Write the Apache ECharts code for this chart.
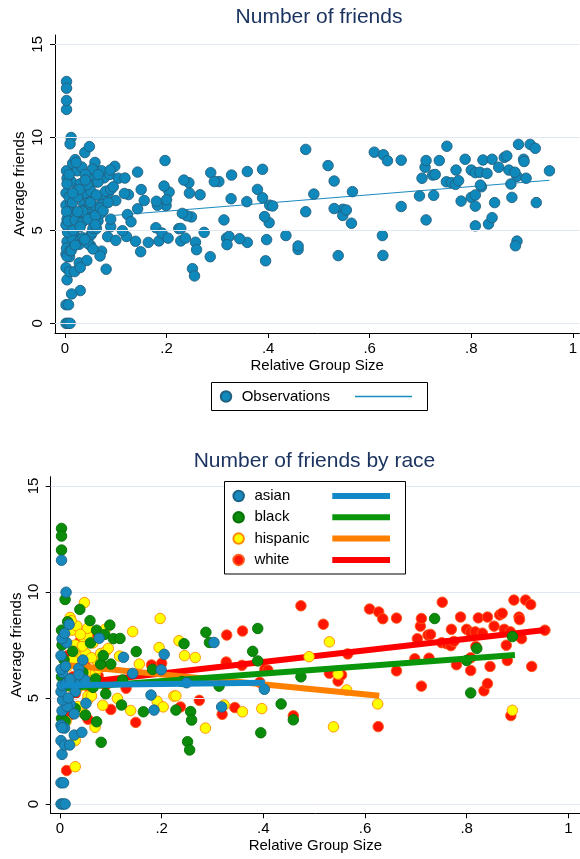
<!DOCTYPE html>
<html>
<head>
<meta charset="utf-8">
<script src="https://cdn.jsdelivr.net/npm/echarts@6/dist/echarts.min.js"></script>
<style>
html,body{margin:0;padding:0;background:#fff;}
#chart{width:580px;height:859px;}
</style>
</head>
<body>
<div id="chart"></div>
<script>
// ---- data (x = relative group size, y = average friends) ----
const asian = [
  [0.002,0],[0.006,0],[0.01,0],[0.002,1.0],[0.007,1.0],[0.004,2.34],[0.002,2.99],[0.009,2.78],[0.019,2.78],
  [0.028,3.25],[0.043,3.38],[0.002,3.72],[0.009,3.58],[0.004,3.6],[0.028,4.25],[0.004,4.4],[0.02,4.7],[0.014,4.6],
  [0.051,4.75],[0.005,4.9],[0.002,5.3],[0.004,5.6],[0.012,5.7],[0.025,5.65],[0.04,5.72],[0.02,5.9],[0.049,5.85],
  [0.005,6.2],[0.002,6.35],[0.011,6.5],[0.037,6.4],[0.037,6.1],[0.045,6.79],[0.002,7.0],[0.013,7.61],[0.004,7.8],
  [0.009,8.05],[0.018,8.47],[0.077,7.82],[0.012,9.99],[0.003,11.5],[0.03,5.3],[0.016,5.0],
  [0.125,6.92],[0.143,6.16],[0.179,5.14],[0.185,4.43],[0.199,6.33],[0.205,7.06],[0.249,5.72],[0.303,7.62],
  [0.318,4.58],[0.402,5.41]
];
const black = [
  [0.003,13.0],[0.003,12.64],[0.003,11.98],[0.01,9.65],[0.039,9.18],[0.059,8.65],[0.072,8.2],[0.098,8.44],
  [0.003,8.2],[0.004,7.5],[0.008,6.8],[0.003,6.0],[0.006,5.5],[0.003,4.04],[0.01,3.9],[0.072,3.88],[0.081,2.91],
  [0.025,7.2],[0.06,7.6],[0.045,6.2],[0.08,6.6],[0.088,8.0],[0.065,5.5],[0.09,5.2],[0.03,4.5],[0.05,4.2],
  [0.015,8.6],[0.07,5.9],[0.1,6.6],[0.085,7.0],[0.105,7.8],
  [0.118,7.81],[0.123,5.85],[0.121,4.67],[0.15,7.19],[0.164,4.35],[0.182,6.35],[0.228,4.43],[0.24,5.78],
  [0.244,7.56],[0.251,2.94],[0.255,2.55],[0.257,4.36],[0.259,3.96],[0.287,8.1],[0.294,7.62],[0.313,5.56],
  [0.379,7.2],[0.389,8.28],[0.389,6.75],[0.395,3.36],[0.435,4.72],[0.459,3.97],[0.474,6.0],[0.737,8.75],
  [0.8,6.77],[0.808,5.24],[0.82,7.34],[0.89,7.9]
];
const hispanic = [
  [0.03,1.76],[0.03,3.0],[0.069,3.62],[0.046,4.28],[0.084,4.66],[0.054,4.9],[0.055,5.1],[0.062,5.1],[0.02,5.55],
  [0.033,5.4],[0.05,6.4],[0.06,6.3],[0.07,6.2],[0.039,7.0],[0.051,7.1],[0.073,6.75],[0.062,6.9],[0.08,7.1],
  [0.09,7.2],[0.095,7.34],[0.03,7.5],[0.044,7.45],[0.045,7.9],[0.054,7.97],[0.024,8.2],[0.054,8.29],[0.033,8.4],
  [0.02,8.8],[0.022,8.65],[0.048,9.5],[0.089,8.24],[0.015,6.5],[0.025,6.8],[0.035,6.0],[0.045,5.6],[0.028,7.2],
  [0.065,7.6],[0.04,8.0],[0.035,4.6],[0.012,3.9],[0.06,5.8],[0.075,6.4],
  [0.113,4.98],[0.117,6.98],[0.139,4.41],[0.143,8.13],[0.156,6.6],[0.191,4.85],[0.195,7.38],[0.197,8.75],
  [0.203,4.58],[0.224,5.09],[0.228,5.1],[0.234,7.7],[0.245,7.0],[0.266,6.91],[0.286,3.58],[0.323,4.67],
  [0.359,4.35],[0.397,4.5],[0.49,6.95],[0.53,7.65],[0.547,6.13],[0.564,5.38],[0.538,3.64],[0.625,4.72],[0.89,4.42]
];
const white = [
  [0.013,1.58],[0.039,4.51],[0.02,4.2],[0.07,6.2],[0.075,6.05],[0.05,6.5],[0.03,5.2],[0.06,5.3],[0.015,7.0],
  [0.04,7.7],[0.025,6.0],[0.085,6.5],[0.008,8.0],[0.065,8.0],[0.055,4.0],[0.09,5.6],
  [0.1,4.46],[0.13,5.46],[0.149,3.85],[0.18,6.56],[0.2,6.64],[0.231,5.91],[0.237,4.58],[0.274,4.89],[0.319,4.23],
  [0.327,6.7],[0.328,7.97],[0.344,4.55],[0.358,6.54],[0.359,8.16],[0.393,5.74],[0.403,6.35],[0.409,6.31],
  [0.459,4.16],[0.474,9.35],[0.518,8.48],[0.53,6.17],[0.547,5.8],[0.554,6.09],[0.566,7.08],[0.609,9.2],
  [0.627,9.06],[0.635,8.74],[0.626,3.65],[0.662,8.77],[0.662,6.28],[0.698,6.85],[0.703,7.8],[0.709,8.39],
  [0.711,8.75],[0.711,5.56],[0.724,7.97],[0.729,8.0],[0.726,6.88],[0.751,7.61],[0.752,9.52],[0.761,7.56],
  [0.769,7.47],[0.77,8.24],[0.775,7.67],[0.78,6.57],[0.788,8.82],[0.8,8.24],[0.808,8.1],[0.808,6.3],[0.808,6.9],
  [0.817,8.12],[0.818,7.43],[0.823,8.78],[0.831,8.06],[0.834,5.34],[0.841,8.82],[0.841,5.68],[0.846,6.49],
  [0.854,8.39],[0.865,8.92],[0.87,9.0],[0.874,8.24],[0.878,7.49],[0.88,6.77],[0.886,8.12],[0.887,4.17],
  [0.893,9.62],[0.903,8.82],[0.904,8.7],[0.908,7.8],[0.916,9.62],[0.926,9.41],[0.928,6.49],[0.954,8.2]
];
// fitted lines (endpoints)
const fitAll      = [[0.0,5.59],[0.954,7.69]];
const fitAsian    = [[0.002,5.6],[0.403,5.72]];
const fitBlack    = [[0.003,5.45],[0.895,7.03]];
const fitHispanic = [[0.012,6.56],[0.628,5.11]];
const fitWhite    = [[0.013,5.65],[0.954,8.21]];
// ticks
const xTicks = [0, 0.2, 0.4, 0.6, 0.8, 1];
const yTicks = [0, 5, 10, 15];
const allObs = asian.concat(black, hispanic, white);

const FONT = 'Liberation Sans, Arial, Helvetica, sans-serif';
const GRIDC = '#e1e8f2';
const fmtX = v => (v === 0 ? '0' : v === 1 ? '1' : String(+v.toFixed(1)).replace(/^0/, ''));

function xAxisCfg(gi, min, max) {
  return {
    type: 'value', gridIndex: gi, min: min, max: max, position: 'bottom',
    name: 'Relative Group Size', nameLocation: 'middle', nameGap: 25, nameMoveOverlap: false,
    nameTextStyle: {color: '#000', fontSize: 15, fontFamily: FONT},
    axisLine: {show: true, onZero: false, lineStyle: {color: '#000', width: 1}},
    axisTick: {show: true, length: 5, lineStyle: {color: '#000'}, customValues: xTicks},
    axisLabel: {show: true, color: '#000', fontSize: 15, fontFamily: FONT, margin: 8,
      customValues: xTicks, formatter: fmtX},
    splitLine: {show: false}
  };
}
function yAxisCfg(gi, min, max, nameGap, margin) {
  return {
    type: 'value', gridIndex: gi, min: min, max: max, position: 'left',
    name: 'Average friends', nameLocation: 'middle', nameGap: nameGap, nameRotate: 90,
    nameMoveOverlap: false,
    nameTextStyle: {color: '#000', fontSize: 15, fontFamily: FONT},
    axisLine: {show: true, onZero: false, lineStyle: {color: '#000', width: 1}},
    axisTick: {show: true, length: 5, lineStyle: {color: '#000'}, customValues: yTicks},
    axisLabel: {show: true, color: '#000', fontSize: 15, fontFamily: FONT, margin: margin, rotate: 90,
      customValues: yTicks, formatter: v => String(v)},
    splitLine: {show: false}
  };
}
function gridSeries(xi) {
  return {
    type: 'line', xAxisIndex: xi, yAxisIndex: xi, data: [], z: 1, silent: true,
    markLine: {silent: true, symbol: ['none', 'none'], label: {show: false}, animation: false,
      lineStyle: {color: GRIDC, width: 1, type: 'solid'},
      data: yTicks.map(v => ({yAxis: v}))}
  };
}
function scatter(name, data, xi, fill, border, z) {
  return {type: 'scatter', name: name, data: data, xAxisIndex: xi, yAxisIndex: xi, z: z,
    symbol: 'circle', symbolSize: 10.5,
    itemStyle: {color: fill, borderColor: border, borderWidth: 0.9, opacity: 1}};
}
function fit(name, data, xi, color, width, z) {
  return {type: 'line', name: name, data: data, xAxisIndex: xi, yAxisIndex: xi, z: z,
    showSymbol: false, symbol: 'none', color: color,
    itemStyle: {color: color}, lineStyle: {color: color, width: width, cap: 'butt'}};
}

const C = {
  obs: ['#0f88bb', '#23607f'],
  asian: ['#1789bd', '#1b6488'],
  black: ['#0a8c0a', '#067006'],
  hispanic: ['#ffff00', '#ff8a00'],
  white: ['#ff1500', '#ff5a1a']
};
const L = {asian: '#138ac8', black: '#0a960a', hispanic: '#ff7f00', white: '#ff0000'};

const option = {
  animation: false,
  backgroundColor: '#fff',
  textStyle: {fontFamily: FONT},
  title: [
    {text: 'Number of friends', left: 319, top: 7, textAlign: 'center', padding: 0,
      textStyle: {color: '#1c3560', fontSize: 21, fontWeight: 'normal', fontFamily: FONT}},
    {text: 'Number of friends by race', left: 314.5, top: 450.5, textAlign: 'center', padding: 0,
      textStyle: {color: '#1c3560', fontSize: 21, fontWeight: 'normal', fontFamily: FONT}}
  ],
  grid: [
    {left: 55, right: 0, top: 35, bottom: 526, containLabel: false},
    {left: 50.7, right: 0, top: 476.7, bottom: 45.7, containLabel: false}
  ],
  xAxis: [xAxisCfg(0, -0.0197, 1.0128), xAxisCfg(1, -0.0183, 1.023)],
  yAxis: [yAxisCfg(0, -0.52, 15.5, 28, 10), yAxisCfg(1, -0.439, 15.44, 26, 9)],
  graphic: [
    {type: 'rect', z: 20, shape: {x: 211.5, y: 382.5, width: 216, height: 28},
      style: {fill: '#fff', stroke: '#000', lineWidth: 1}},
    {type: 'rect', z: 20, shape: {x: 224.5, y: 481.5, width: 181, height: 92.5},
      style: {fill: '#fff', stroke: '#000', lineWidth: 1}}
  ],
  legend: [
    {data: ['Observations'], left: 219.75, top: 389, padding: 0, z: 30, orient: 'horizontal',
      itemWidth: 21.25, itemHeight: 10.5, selectedMode: false,
      textStyle: {color: '#000', fontSize: 15, lineHeight: 15, fontFamily: FONT}},
    {data: [{name: 'fit_all', icon: 'rect'}], left: 355, top: 389, padding: 0, z: 30,
      itemWidth: 57, itemHeight: 1.5, selectedMode: false, formatter: () => ' ',
      itemStyle: {borderWidth: 0},
      textStyle: {color: '#000', fontSize: 15, lineHeight: 15, fontFamily: FONT}},
    {data: ['asian', 'black', 'hispanic', 'white'], left: 232.4, top: 488.5, padding: 0, z: 30,
      orient: 'vertical', itemGap: 6.3, itemWidth: 21.6, itemHeight: 10.5, selectedMode: false,
      textStyle: {color: '#000', fontSize: 15, lineHeight: 15, fontFamily: FONT}},
    {data: ['asian_fit', 'black_fit', 'hispanic_fit', 'white_fit'].map(n => ({name: n, icon: 'rect'})),
      left: 332.3, top: 488.5, padding: 0, z: 30, orient: 'vertical', itemGap: 6.3,
      itemWidth: 57.7, itemHeight: 6, selectedMode: false, formatter: () => ' ',
      itemStyle: {borderWidth: 0},
      textStyle: {color: '#000', fontSize: 15, lineHeight: 15, fontFamily: FONT}}
  ],
  series: [
    gridSeries(0),
    fit('fit_all', fitAll, 0, '#1a8ac0', 1, 2),
    scatter('Observations', allObs, 0, C.obs[0], C.obs[1], 3),
    gridSeries(1),
    scatter('white', white, 1, C.white[0], C.white[1], 3),
    fit('white_fit', fitWhite, 1, L.white, 6, 4),
    scatter('hispanic', hispanic, 1, C.hispanic[0], C.hispanic[1], 5),
    fit('hispanic_fit', fitHispanic, 1, L.hispanic, 6, 6),
    scatter('black', black, 1, C.black[0], C.black[1], 7),
    fit('black_fit', fitBlack, 1, L.black, 6, 8),
    scatter('asian', asian, 1, C.asian[0], C.asian[1], 9),
    fit('asian_fit', fitAsian, 1, L.asian, 6, 10)
  ]
};
const chart = echarts.init(document.getElementById('chart'), null, {renderer: 'canvas'});
chart.setOption(option);
</script>
</body>
</html>
